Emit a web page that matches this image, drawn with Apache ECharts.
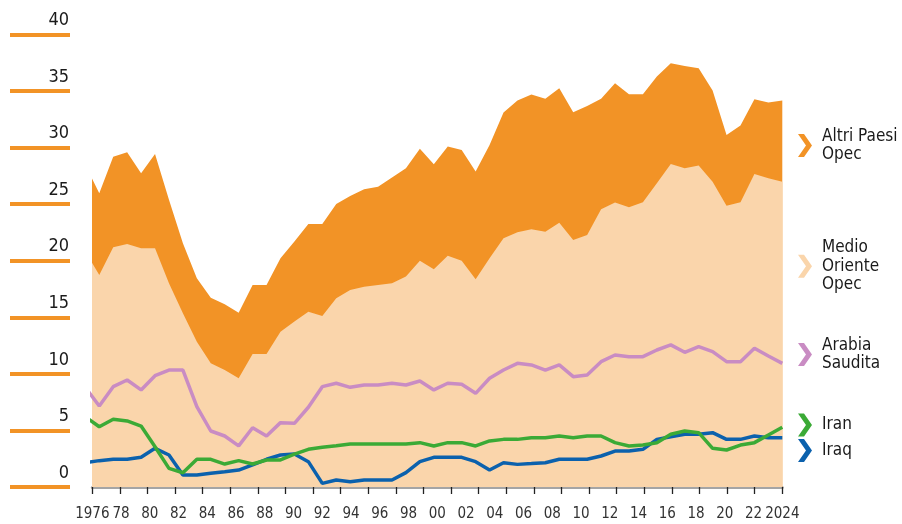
<!DOCTYPE html>
<html><head><meta charset="utf-8">
<script src="https://cdn.jsdelivr.net/npm/echarts@6/dist/echarts.min.js"></script>
<style>html,body{margin:0;padding:0;background:#fff}#c{width:902px;height:524px}</style>
</head><body><div id="c"></div>
<script>
// ---- data (million barrels/day) ----
const years = [1974,1975,1976,1977,1978,1979,1980,1981,1982,1983,1984,1985,1986,1987,1988,1989,1990,1991,1992,1993,1994,1995,1996,1997,1998,1999,2000,2001,2002,2003,2004,2005,2006,2007,2008,2009,2010,2011,2012,2013,2014,2015,2016,2017,2018,2019,2020,2021,2022,2023,2024];
const medioOriente = [20.82,18.74,21.19,21.49,21.10,21.10,18.01,15.36,12.85,10.94,10.34,9.61,11.76,11.76,13.73,14.62,15.50,15.12,16.68,17.42,17.71,17.86,18.01,18.60,20.01,19.25,20.45,20.01,18.36,20.22,21.99,22.52,22.78,22.57,23.37,21.84,22.28,24.55,25.14,24.73,25.17,26.85,28.56,28.18,28.41,26.99,24.87,25.17,27.67,27.29,26.99];
const altriPaesi = [7.63,7.23,8.01,8.10,6.64,8.34,7.39,6.19,5.60,5.80,5.81,5.80,6.10,6.10,6.49,7.08,7.75,8.13,8.34,8.31,8.61,8.69,9.34,9.58,9.88,9.28,9.64,9.79,9.52,10.02,11.11,11.64,11.92,11.74,11.88,11.29,11.41,9.76,10.55,9.99,9.55,9.43,8.90,9.04,8.61,8.05,6.25,6.78,6.61,6.69,7.17];
const arabiaSaudita = [8.80,7.16,8.87,9.46,8.58,9.84,10.34,10.34,7.10,4.95,4.51,3.63,5.24,4.51,5.69,5.63,7.05,8.87,9.17,8.81,9.02,9.02,9.17,9.02,9.37,8.58,9.17,9.08,8.28,9.61,10.34,10.93,10.79,10.34,10.79,9.75,9.90,11.08,11.67,11.52,11.52,12.11,12.56,11.91,12.41,11.97,11.08,11.08,12.26,11.58,10.93];
const iran = [6.21,5.33,5.99,5.84,5.39,3.56,1.65,1.26,2.45,2.45,2.03,2.33,2.03,2.39,2.39,2.90,3.33,3.51,3.65,3.80,3.80,3.80,3.80,3.80,3.92,3.63,3.92,3.92,3.63,4.07,4.21,4.21,4.36,4.36,4.51,4.36,4.51,4.51,3.92,3.63,3.71,3.92,4.66,4.95,4.80,3.42,3.27,3.71,3.92,4.60,5.28];
const iraq = [2.15,2.33,2.45,2.45,2.63,3.42,2.83,1.06,1.06,1.21,1.35,1.50,1.95,2.45,2.83,2.92,2.24,0.32,0.62,0.47,0.62,0.62,0.62,1.27,2.24,2.62,2.62,2.62,2.24,1.50,2.15,2.00,2.07,2.15,2.45,2.45,2.45,2.74,3.18,3.18,3.33,4.21,4.45,4.66,4.66,4.80,4.21,4.21,4.51,4.36,4.36];
const yTickMin = 0, yTickMax = 40, yTickStep = 5;
const xLabelFirst = 1976, xLabelLast = 2024, xLabelStep = 2;
const seriesNames = ['Altri Paesi Opec','Medio Oriente Opec','Arabia Saudita','Iran','Iraq'];
const legendTexts = ['Altri Paesi\nOpec','Medio\nOriente\nOpec','Arabia\nSaudita','Iran','Iraq'];

// ---- styling ----
const FONT = "'DejaVu Sans Condensed','Roboto',sans-serif";
const COL = ['#F29326','#FAD5AB','#C98CC3','#3BAA36','#0B61AD'];
const CHEVRON = 'path://M0,0L6,0L14,11.5L6,23L0,23L8,11.5Z';
const legendTops = [127, 238.5, 336, 413.5, 439];
const pair = arr => years.map((y, i) => [y, arr[i]]);
// top edge of the OPEC total (Medio Oriente + Altri Paesi), drawn behind the Medio Oriente area
const opecTotal = years.map((y, i) => [y, +(medioOriente[i] + altriPaesi[i]).toFixed(2)]);

const chart = echarts.init(document.getElementById('c'), null, {renderer:'canvas'});
const option = {
  animation: false,
  backgroundColor: '#fff',
  grid: [
    {left: 92.3, right: 119.7, top: 34.5, bottom: 37},
    {left: 10, width: 60, top: 34.5, bottom: 37}
  ],
  xAxis: [
    {gridIndex:0, type:'value', position:'bottom', min:0, max:25, interval:1, offset:3,
     axisLine:{show:false}, axisTick:{show:true, length:7, lineStyle:{color:'#222', width:1.3}},
     axisLabel:{show:false}, splitLine:{show:false}},
    {gridIndex:0, type:'value', position:'bottom', min:xLabelFirst, max:xLabelLast, interval:xLabelStep,
     axisLine:{show:true, lineStyle:{color:'#a5a5a5', width:3}}, axisTick:{show:false}, splitLine:{show:false},
     axisLabel:{show:true, showMinLabel:true, showMaxLabel:true, hideOverlap:false, margin:20,
       fontFamily:FONT, fontSize:15, color:'#333',
       formatter: v => (v === xLabelFirst || v === xLabelLast) ? String(v) : String(v).slice(2)}},
    {gridIndex:0, type:'value', position:'bottom', min:1974.5, max:2024, show:false},
    {gridIndex:1, type:'value', show:false}
  ],
  yAxis: [
    {gridIndex:0, type:'value', min:yTickMin, max:yTickMax, show:false},
    {gridIndex:1, type:'value', min:yTickMin, max:yTickMax, interval:yTickStep, position:'right',
     axisLine:{show:false}, axisTick:{show:false},
     splitLine:{show:true, lineStyle:{color:COL[0], width:4}},
     axisLabel:{inside:true, margin:1, fontFamily:FONT, fontSize:18, color:'#1a1a1a',
       showMinLabel:true, showMaxLabel:true,
       verticalAlign:'bottom', padding:[0,0,5,0]}}
  ],
  legend: seriesNames.map((n, i) => ({
    data:[n], left:798, top:legendTops[i], orient:'vertical', padding:0,
    icon:CHEVRON, itemWidth:14, itemHeight:23, selectedMode:false,
    itemStyle:{borderWidth:0},
    formatter: () => legendTexts[i],
    textStyle:{fontFamily:FONT, fontSize:17, lineHeight:18.5, color:'#1a1a1a', padding:[0,0,0,5]}
  })),
  series: [
    {name:seriesNames[0], type:'line', xAxisIndex:2, yAxisIndex:0, data:opecTotal,
     symbol:'none', lineStyle:{width:0, opacity:0}, areaStyle:{color:COL[0], opacity:1},
     itemStyle:{color:COL[0]}, z:1},
    {name:seriesNames[1], type:'line', xAxisIndex:2, yAxisIndex:0, data:pair(medioOriente),
     symbol:'none', lineStyle:{width:0, opacity:0}, areaStyle:{color:COL[1], opacity:1},
     itemStyle:{color:COL[1]}, z:2},
    {name:seriesNames[2], type:'line', xAxisIndex:2, yAxisIndex:0, data:pair(arabiaSaudita),
     symbol:'none', lineStyle:{width:3.5, color:COL[2]}, itemStyle:{color:COL[2]}, z:3},
    {name:seriesNames[4], type:'line', xAxisIndex:2, yAxisIndex:0, data:pair(iraq),
     symbol:'none', lineStyle:{width:3.5, color:COL[4]}, itemStyle:{color:COL[4]}, z:3},
    {name:seriesNames[3], type:'line', xAxisIndex:2, yAxisIndex:0, data:pair(iran),
     symbol:'none', lineStyle:{width:3.5, color:COL[3]}, itemStyle:{color:COL[3]}, z:4}
  ]
};
chart.setOption(option);
</script></body></html>
